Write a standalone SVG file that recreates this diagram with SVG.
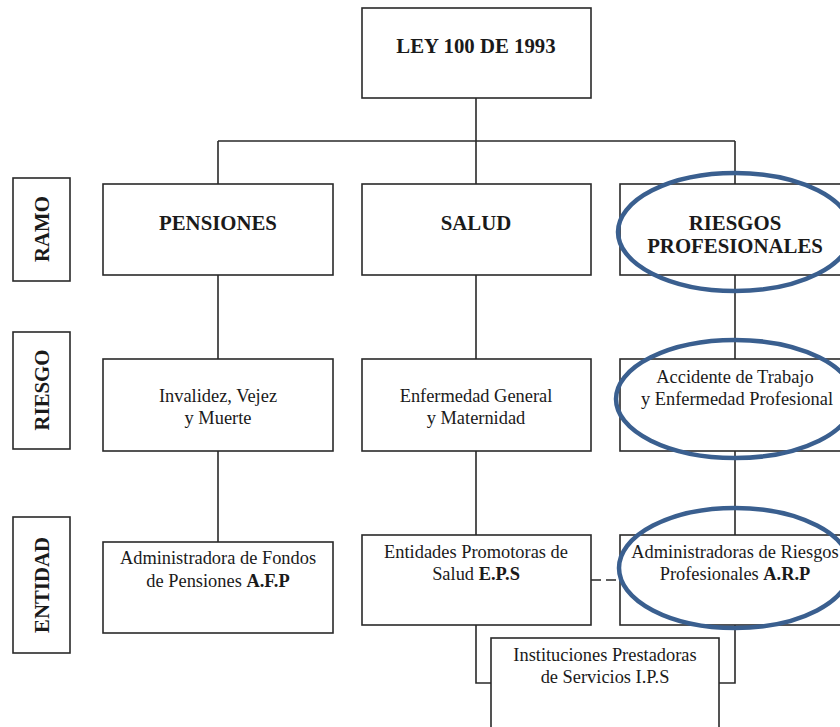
<svg xmlns="http://www.w3.org/2000/svg" width="840" height="727" viewBox="0 0 840 727">
<style>
.box{fill:#fff;stroke:#2a2a2a;stroke-width:1.6}
.ln{fill:none;stroke:#2a2a2a;stroke-width:1.6}
.dash{fill:none;stroke:#2a2a2a;stroke-width:1.6;stroke-dasharray:10 5}
.b{font-family:'Liberation Serif','DejaVu Serif',serif;font-weight:bold;font-size:20.8px;fill:#1a1a1a;text-anchor:middle}
.r{font-family:'Liberation Serif','DejaVu Serif',serif;font-size:18.4px;fill:#1a1a1a;text-anchor:middle}
.ring{fill:none;stroke:#3a5f8f;stroke-width:4.5}
</style>
<rect width="840" height="727" fill="#fff"/>
<g id="connectors">
<path class="ln" d="M476 98V141M218 141H735M218 141V184M476 141V184M735 141V184"/>
<path class="ln" d="M218 275V359M476 275V359M735 275V359"/>
<path class="ln" d="M218 451V542M476 451V535M735 451V535"/>
<path class="ln" d="M476 625V683H491M735 625V683H719"/>
<path class="dash" d="M591 580H620"/>
</g>
<g id="ley"><rect class="box" x="362" y="8" width="229" height="90"/><text class="b" x="476" y="53">LEY 100 DE 1993</text></g>
<g id="lbl-ramo"><rect class="box" x="13" y="178" width="57" height="103"/><text class="b" transform="translate(49,229) rotate(-90)">RAMO</text></g>
<g id="lbl-riesgo"><rect class="box" x="13" y="332" width="57" height="117"/><text class="b" transform="translate(49,390) rotate(-90)">RIESGO</text></g>
<g id="lbl-entidad"><rect class="box" x="13" y="517" width="57" height="136"/><text class="b" transform="translate(49,585) rotate(-90)">ENTIDAD</text></g>
<g id="pensiones"><rect class="box" x="103" y="184" width="230" height="91"/><text class="b" x="218" y="230">PENSIONES</text></g>
<g id="salud"><rect class="box" x="362" y="184" width="229" height="91"/><text class="b" x="476" y="230">SALUD</text></g>
<g id="riesgos"><rect class="box" x="620" y="184" width="230" height="91"/><text class="b" x="735" y="230">RIESGOS</text><text class="b" x="735" y="253">PROFESIONALES</text></g>
<g id="ivm"><rect class="box" x="103" y="359" width="230" height="92"/><text class="r" x="218" y="402">Invalidez, Vejez</text><text class="r" x="218" y="424">y Muerte</text></g>
<g id="egm"><rect class="box" x="362" y="359" width="229" height="92"/><text class="r" x="476" y="402">Enfermedad General</text><text class="r" x="476" y="424">y Maternidad</text></g>
<g id="atep"><rect class="box" x="620" y="359" width="230" height="92"/><text class="r" x="735" y="383">Accidente de Trabajo</text><text class="r" x="737" y="405">y Enfermedad Profesional</text></g>
<g id="afp"><rect class="box" x="103" y="542" width="230" height="91"/><text class="r" x="218" y="564">Administradora de Fondos</text><text class="r" x="218" y="587">de Pensiones <tspan font-weight="bold">A.F.P</tspan></text></g>
<g id="eps"><rect class="box" x="362" y="535" width="229" height="90"/><text class="r" x="476" y="558">Entidades Promotoras de</text><text class="r" x="476" y="580">Salud <tspan font-weight="bold">E.P.S</tspan></text></g>
<g id="arp"><rect class="box" x="620" y="535" width="230" height="90"/><text class="r" x="735" y="558">Administradoras de Riesgos</text><text class="r" x="735" y="580">Profesionales <tspan font-weight="bold">A.R.P</tspan></text></g>
<g id="ips"><rect class="box" x="491" y="638" width="228" height="100"/><text class="r" x="605" y="661">Instituciones Prestadoras</text><text class="r" x="605" y="683">de Servicios I.P.S</text></g>
<g id="highlights">
<ellipse class="ring" cx="735" cy="232" rx="117" ry="59"/>
<ellipse class="ring" cx="735" cy="399" rx="119" ry="59"/>
<ellipse class="ring" cx="735" cy="568" rx="116" ry="60"/>
</g>
</svg>
